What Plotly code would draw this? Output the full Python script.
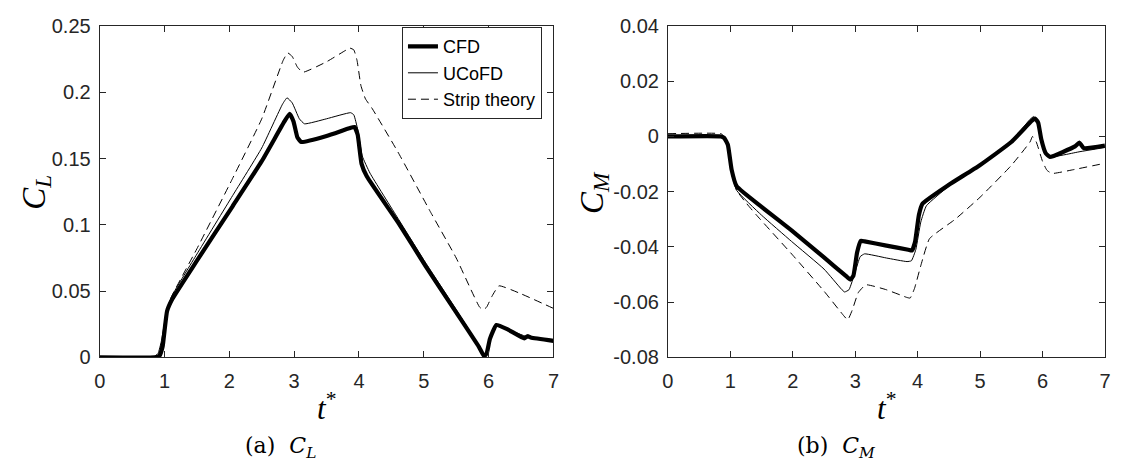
import plotly.graph_objects as go

# ---------------- data ----------------
t_cl_cfd = [0, 0.85, 0.92, 0.97, 1.0, 1.04, 1.12, 1.5, 2.05, 2.5, 2.85, 2.93, 2.99, 3.05, 3.11, 3.5, 3.85, 3.93,
            3.98, 4.04, 4.12, 4.6, 5.02, 5.5, 5.85, 5.93, 5.97, 6.02, 6.12, 6.3, 6.55, 6.6, 6.65, 7.0]
cl_cfd = [0, 0, 0.001, 0.008, 0.02, 0.035, 0.044, 0.073, 0.114, 0.148, 0.178, 0.1838, 0.178, 0.166, 0.1625, 0.167, 0.1728, 0.1738,
          0.168, 0.146, 0.1366, 0.102, 0.0695, 0.034, 0.008, 0.001, 0.003, 0.014, 0.0245, 0.021, 0.0144, 0.016, 0.015, 0.0125]

t_cl_uc = [0, 0.82, 0.9, 0.95, 1.0, 1.05, 1.12, 1.5, 2.05, 2.5, 2.82, 2.89, 2.97, 3.08, 3.16, 3.5, 3.87, 3.92,
           3.98, 4.05, 4.17, 4.6, 5.02, 5.5, 5.85, 5.93, 5.97, 6.02, 6.12, 6.3, 6.6, 7.0]
cl_uc = [0, 0, 0.003, 0.012, 0.026, 0.038, 0.047, 0.078, 0.122, 0.158, 0.191, 0.1958, 0.192, 0.18, 0.1762, 0.18, 0.1846, 0.183,
         0.172, 0.152, 0.139, 0.105, 0.072, 0.036, 0.009, 0.002, 0.004, 0.014, 0.0235, 0.021, 0.0155, 0.013]

t_cl_st = [0, 0.85, 0.9, 0.95, 1.0, 1.05, 1.1, 1.5, 2.05, 2.5, 2.83, 2.9, 2.97, 3.05, 3.135, 3.5, 3.8, 3.86, 3.92,
           3.97, 4.03, 4.1, 4.2, 4.6, 5.1, 5.5, 5.86, 5.92, 5.97, 6.05, 6.16, 6.5, 7.0]
cl_st = [0, 0, 0.002, 0.01, 0.024, 0.036, 0.045, 0.082, 0.135, 0.18, 0.224, 0.2297, 0.227, 0.219, 0.2151, 0.223, 0.2318, 0.2333, 0.232,
         0.224, 0.205, 0.195, 0.188, 0.155, 0.11, 0.075, 0.038, 0.036, 0.038, 0.046, 0.054, 0.048, 0.037]

t_cm_cfd = [0, 0.85, 0.9, 0.96, 1.02, 1.1, 1.5, 1.98, 2.5, 2.85, 2.92, 2.97, 3.03, 3.09, 3.15, 3.5, 3.85, 3.91,
            3.96, 4.02, 4.08, 4.5, 4.99, 5.5, 5.82, 5.88, 5.93, 5.98, 6.05, 6.12, 6.52, 6.59, 6.66, 7.0]
cm_cfd = [0, 0, -0.0005, -0.003, -0.012, -0.018, -0.0255, -0.034, -0.0438, -0.0505, -0.0518, -0.0505, -0.042, -0.0378, -0.038, -0.0395, -0.041, -0.0413,
          -0.038, -0.0284, -0.0243, -0.0175, -0.0105, -0.002, 0.0055, 0.0065, 0.005, -0.001, -0.006, -0.0074, -0.0036, -0.0022, -0.0042, -0.0033]

t_cm_uc = [0, 0.85, 0.9, 0.96, 1.02, 1.1, 1.5, 1.98, 2.5, 2.78, 2.83, 2.9, 3.0, 3.08, 3.15, 3.5, 3.83, 3.9,
           3.97, 4.05, 4.14, 4.5, 4.99, 5.5, 5.8, 5.86, 5.92, 5.98, 6.05, 6.1, 6.6, 7.0]
cm_uc = [0, 0, -0.0006, -0.0035, -0.013, -0.0195, -0.0285, -0.038, -0.048, -0.0553, -0.0563, -0.0555, -0.049, -0.0435, -0.0425, -0.044, -0.0453, -0.045,
         -0.041, -0.031, -0.0251, -0.018, -0.0105, -0.0018, 0.0062, 0.0072, 0.0055, -0.001, -0.006, -0.0075, -0.0055, -0.004]

t_cm_st = [0, 0.85, 0.9, 0.96, 1.02, 1.1, 1.25, 1.42, 2.0, 2.5, 2.82, 2.88, 2.95, 3.05, 3.17, 3.5, 3.83, 3.88,
           3.95, 4.05, 4.19, 4.6, 5.0, 5.5, 5.8, 5.84, 5.9, 6.0, 6.07, 6.15, 6.5, 7.0]
cm_st = [0.001, 0.001, 0.0, -0.004, -0.013, -0.0195, -0.024, -0.0285, -0.043, -0.056, -0.065, -0.0664, -0.063, -0.0565, -0.0537, -0.0555, -0.0583, -0.0585,
         -0.055, -0.0468, -0.037, -0.03, -0.022, -0.0105, -0.002, 0.0, -0.002, -0.009, -0.0122, -0.0134, -0.012, -0.0097]

x_ticks = [0, 1, 2, 3, 4, 5, 6, 7]
cl_ticks = [0, 0.05, 0.1, 0.15, 0.2, 0.25]
cl_tick_text = ["0", "0.05", "0.1", "0.15", "0.2", "0.25"]
cm_ticks = [-0.08, -0.06, -0.04, -0.02, 0, 0.02, 0.04]
cm_tick_text = ["-0.08", "-0.06", "-0.04", "-0.02", "0", "0.02", "0.04"]

series_names = ["CFD", "UCoFD", "Strip theory"]

# ---------------- figure ----------------
W, H = 1134, 474
AX = "#262626"
SANS = "Liberation Sans, Arial, sans-serif"
TICKFONT = dict(family=SANS, size=20, color=AX)
SERIF = "Liberation Serif, DejaVu Serif, serif"

fig = go.Figure()

styles = [dict(color="black", width=4.2, shape="spline", smoothing=0.4),
          dict(color="black", width=1, shape="spline", smoothing=0.4),
          dict(color="black", width=1, dash="8px,5px", shape="spline", smoothing=0.4)]

for (tx, ty), name, st in zip([(t_cl_cfd, cl_cfd), (t_cl_uc, cl_uc), (t_cl_st, cl_st)], series_names, styles):
    fig.add_trace(go.Scatter(x=tx, y=ty, mode="lines", name=name, line=st, xaxis="x", yaxis="y", showlegend=True))
for (tx, ty), name, st in zip([(t_cm_cfd, cm_cfd), (t_cm_uc, cm_uc), (t_cm_st, cm_st)], series_names, styles):
    fig.add_trace(go.Scatter(x=tx, y=ty, mode="lines", name=name, line=st, xaxis="x2", yaxis="y2", showlegend=False))

def px(x):
    return x / W

def py(y):
    return 1 - y / H

ax_common = dict(showline=True, linecolor=AX, linewidth=1, mirror="allticks", ticks="inside", ticklen=6,
                 tickcolor=AX, tickwidth=1, showgrid=False, zeroline=False, tickfont=TICKFONT)

y_dom = [py(363.3), py(15.7)]
fig.update_layout(
    width=W, height=H, margin=dict(l=0, r=0, t=0, b=0),
    paper_bgcolor="white", plot_bgcolor="white",
    xaxis=dict(domain=[px(94.7), px(553.3)], range=[0, 7], tickvals=x_ticks, anchor="y", ticklabelstandoff=6, **ax_common),
    yaxis=dict(domain=y_dom, range=[0, 0.25], tickvals=cl_ticks, ticktext=cl_tick_text, anchor="x", ticklabelstandoff=4, **ax_common),
    xaxis2=dict(domain=[px(669), px(1110.7)], range=[0, 7], tickvals=x_ticks, anchor="y2", ticklabelstandoff=6, **ax_common),
    yaxis2=dict(domain=y_dom, range=[-0.08, 0.04], tickvals=cm_ticks, ticktext=cm_tick_text, anchor="x2", ticklabelstandoff=4, **ax_common),
    legend=dict(x=px(541.7), y=py(17), xanchor="right", yanchor="top", bgcolor="white",
                bordercolor=AX, borderwidth=1, font=dict(family=SANS, size=18, color="black"),
                tracegroupgap=0, itemwidth=30),
    showlegend=True,
)

ann = []
def add_text(x, y, text, size, angle=0, family=SERIF):
    ann.append(dict(x=px(x), y=py(y), xref="paper", yref="paper", text=text, showarrow=False,
                    xanchor="center", yanchor="middle", textangle=angle,
                    font=dict(family=family, size=size, color="black")))

add_text(324, 415, "<i>t</i><sup>*</sup>", 31)
add_text(890, 415, "<i>t</i><sup>*</sup>", 31)
add_text(30, 190, "<i>C<sub>L</sub></i>", 33, -90)
add_text(594, 190, "<i>C<sub>M</sub></i>", 33, -90)
add_text(277, 458, "(a)&nbsp;&nbsp;<i>C<sub>L</sub></i>", 22, family="DejaVu Serif, serif")
add_text(839, 458, "(b)&nbsp;&nbsp;<i>C<sub>M</sub></i>", 22, family="DejaVu Serif, serif")
fig.update_layout(annotations=ann)

fig.write_html("out.html")
